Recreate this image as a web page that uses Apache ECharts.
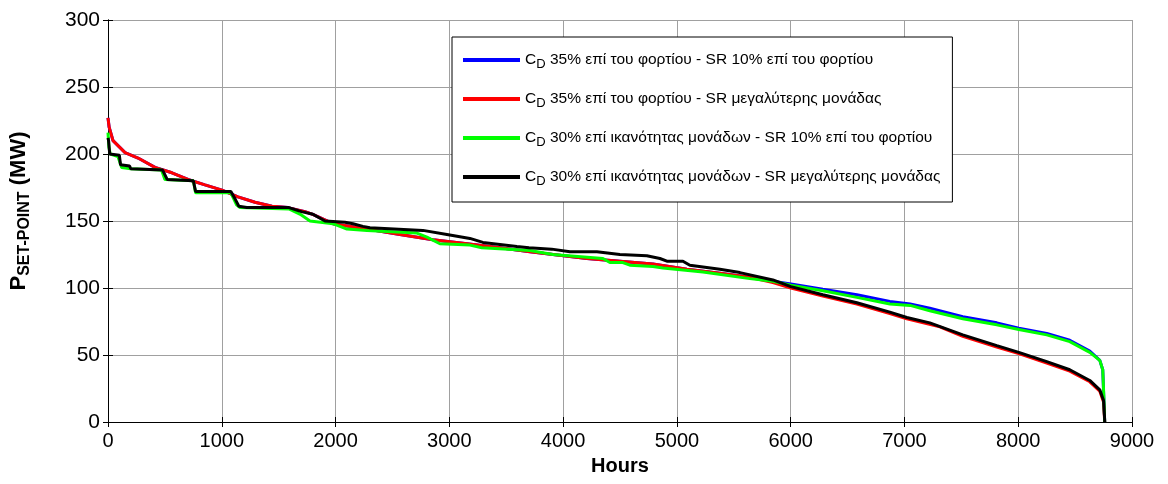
<!DOCTYPE html>
<html><head><meta charset="utf-8">
<script src="https://cdn.jsdelivr.net/npm/echarts@6/dist/echarts.min.js"></script>
<style>html,body{margin:0;padding:0;background:#fff}#c{width:1168px;height:484px}</style>
</head><body><div id="c"></div>
<script>
// ---- data ----
const seriesNames = [
  "35% επί του φορτίου - SR 10% επί του φορτίου",
  "35% επί του φορτίου - SR μεγαλύτερης μονάδας",
  "30% επί ικανότητας μονάδων - SR 10% επί του φορτίου",
  "30% επί ικανότητας μονάδων - SR μεγαλύτερης μονάδας"
];
const xTicks = [0,1000,2000,3000,4000,5000,6000,7000,8000,9000];
const yTicks = [0,50,100,150,200,250,300];

const redHours = [0,10,44,150,264,413,562,703,852,1002,1142,1292,1441,1582,1731,1800,1977,2276,2566,2856,3155,3445,3708,4209,4499,4789,5088,5378,5641,5844,6002,6283,6582,6872,7021,7311,7513,7812,8005,8251,8453,8629,8717,8750,8760];
const redVals  = [227,220,210,201,197,190,186,181,177,173,168,164,161,160,157,155,148,144,140,136,133,130,127,122,120,118,114,111,108,104,100,94,88,81,77,71,64,56,51,44,38,30,23,15,0];

const blueHours = [0,10,44,150,264,413,562,703,852,1002,1142,1292,1441,1582,1731,1800,1977,2276,2566,2856,3155,3445,3708,4209,4499,4789,5088,5378,5641,5844,6002,6283,6582,6872,7050,7223,7513,7812,8005,8251,8453,8629,8717,8743,8760];
const blueVals  = [227,220,210,201,197,190,186,181,177,173,168,164,161,160,157,155,148,144,140,136,133,130,127,122,120,118,114,111,108,105,103,99,95,90,88,85,78.5,74,70,66,61,53,46,39,0];

const greenHours = [0,8,20,88,120,200,470,500,750,770,1080,1130,1160,1590,1690,1775,1977,2100,2276,2715,2803,2917,3181,3286,3708,3910,4350,4411,4525,4587,4789,4877,5229,5641,5844,6002,6283,6582,6872,7050,7223,7513,7812,8005,8251,8453,8629,8717,8743,8752,8760];
const greenVals  = [216,205,200,198,190,189,188,181,180,171,171,162,160,159,155,150,148,144,143,141,138,133,132,130,128,125,122,119,119,117,116,115,112,107,105,102,98,93,88,87,83,77,72.5,69,65,60,52,46,39,20,0];

const blackHours = [0,5,15,100,110,190,200,480,520,750,770,1080,1120,1150,1220,1590,1700,1801,1907,2083,2153,2241,2302,2768,2979,3181,3295,3594,3700,3900,4060,4297,4499,4736,4851,4912,5053,5114,5378,5554,5844,6002,6283,6582,6872,7021,7223,7513,7812,8005,8251,8453,8629,8717,8750,8758,8760];
const blackVals  = [212,210,200,199,192,191,189,188,181,180,172,172,166,161,160,160,157,155,150,149,148,146,145,143,140,137,134,131,130,129,127,127,125,124,122,120,120,117,114,111.5,106,101,95,89,82,78,74,65,57,52,45,39,31,24,16,5,0];

const colors = ['#0000FF','#FF0000','#00FF00','#000000'];
const hoursList = [blueHours, redHours, greenHours, blackHours];
const valsList = [blueVals, redVals, greenVals, blackVals];

// ---- chart ----
const font = '"Liberation Sans", Arial, sans-serif';
const chart = echarts.init(document.getElementById('c'), null, {renderer:'canvas'});
const series = seriesNames.map((n, i) => ({
  name: n, type: 'line', xAxisIndex: 0, yAxisIndex: 0,
  showSymbol: false, symbol: 'none', animation: false,
  lineStyle: {color: colors[i], width: 3}, itemStyle: {color: colors[i]},
  data: hoursList[i].map((h, k) => [h, valsList[i][k]])
}));
const axisLine = {show: true, lineStyle: {color: '#000', width: 1}};
const tick = {show: true, inside: true, length: 5, lineStyle: {color: '#000'}};
chart.setOption({
  animation: false,
  backgroundColor: '#fff',
  grid: {left: 108, right: 36, top: 20, bottom: 62, containLabel: false, outerBoundsMode: 'none'},
  legend: {
    orient: 'vertical', left: 452, top: 37, width: 500,
    padding: [12, 12, 14, 11], itemGap: 17,
    itemWidth: 57, itemHeight: 4, icon: 'rect',
    borderColor: '#000', borderWidth: 1, backgroundColor: '#fff',
    data: seriesNames.map((n, i) => ({name: n, itemStyle: {color: colors[i]}})),
    formatter: n => '{n|C}{s|D}{n| ' + n + '}',
    textStyle: {
      fontFamily: font, color: '#000',
      rich: {
        n: {fontSize: 15.5, fontFamily: font, color: '#000', lineHeight: 22},
        s: {fontSize: 13, fontFamily: font, color: '#000', lineHeight: 22, padding: [9, 0, 0, 0]}
      }
    }
  },
  xAxis: [{
    type: 'value', min: 0, max: 9000, interval: 1000, position: 'bottom',
    name: 'Hours', nameLocation: 'middle', nameGap: 34,
    nameTextStyle: {fontFamily: font, fontSize: 20, fontWeight: 'bold', color: '#000'},
    axisLine: axisLine, axisTick: tick,
    axisLabel: {fontFamily: font, fontSize: 20, color: '#000', margin: 9,
      formatter: v => xTicks.includes(v) ? String(v) : ''},
    splitLine: {show: true, lineStyle: {color: '#a0a0a0', width: 1}}
  }, {
    type: 'value', min: 0, max: 9000, interval: 1000, position: 'top',
    axisLine: axisLine, axisTick: tick, axisLabel: {show: false}, splitLine: {show: false}
  }],
  yAxis: [{
    type: 'value', min: 0, max: 300, interval: 50, position: 'left',
    name: '{p|P}{s|SET-POINT}{p| (MW)}', nameLocation: 'middle', nameGap: 76, nameRotate: 90,
    nameTextStyle: {
      fontFamily: font, color: '#000', padding: [0, 0, 0, 20],
      rich: {
        p: {fontSize: 22, fontWeight: 'bold', fontFamily: font, color: '#000', lineHeight: 26},
        s: {fontSize: 16, fontWeight: 'bold', fontFamily: font, color: '#000', lineHeight: 26, padding: [11, 0, 0, 0]}
      }
    },
    axisLine: axisLine, axisTick: tick,
    axisLabel: {fontFamily: font, fontSize: 21, color: '#000', margin: 8,
      formatter: v => yTicks.includes(v) ? String(v) : ''},
    splitLine: {show: true, lineStyle: {color: '#a0a0a0', width: 1}}
  }, {
    type: 'value', min: 0, max: 300, interval: 50, position: 'right',
    axisLine: axisLine, axisTick: tick, axisLabel: {show: false}, splitLine: {show: false}
  }],
  series: series
});
</script></body></html>
